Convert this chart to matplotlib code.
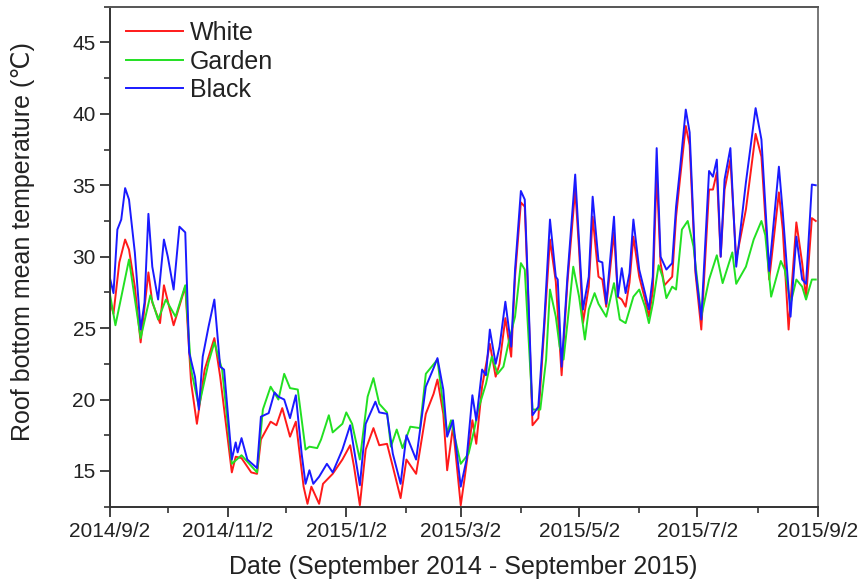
import pandas as pd
import matplotlib
matplotlib.use('Agg')
import matplotlib.pyplot as plt
from matplotlib.ticker import MultipleLocator, FixedLocator

plt.rcParams['font.family'] = ['Liberation Sans', 'DejaVu Sans']

start = pd.Timestamp('2014-09-02')

# days since 2014/9/2 and daily mean temperature
white_day = [0, 2, 5, 8, 10, 13, 16, 20, 22, 26, 28, 33, 39, 42, 45, 49, 54, 57, 63, 65,
             68, 73, 76, 78, 83, 86, 89, 93, 96, 100, 102, 104, 108, 110, 115, 120, 124, 126, 129, 132,
             136, 139, 143, 146, 150, 153, 158, 163, 167, 169, 172, 174, 177, 181, 183, 187, 189, 192, 196, 199,
             201, 204, 207, 209, 212, 214, 216, 218, 221, 224, 227, 230, 233, 236, 240, 242, 244, 247, 249, 252,
             254, 256, 260, 262, 264, 266, 268, 270, 273, 276, 278, 280, 282, 284, 286, 290, 292, 294, 297, 299,
             302, 305, 309, 311, 313, 315, 317, 320, 323, 328, 333, 336, 340, 345, 347, 350, 354, 357, 359, 362, 364]
white_val = [27.0, 26.0, 29.6, 31.2, 30.5, 27.9, 24.0, 28.9, 26.8, 25.35, 28.0, 25.2, 27.9, 21.2, 18.3, 22.1, 24.3, 21.6, 14.9, 16.0,
             15.9, 14.9, 14.8, 17.2, 18.45, 18.2, 19.4, 17.4, 18.45, 13.9, 12.7, 13.9, 12.7, 14.1, 14.8, 15.8, 16.8, 15.3, 12.6, 16.5,
             18.0, 16.8, 16.9, 15.3, 13.1, 15.8, 14.8, 19.0, 20.4, 21.4, 19.0, 15.05, 18.1, 12.6, 14.5, 18.55, 16.9, 20.9, 23.9, 21.6,
             22.5, 25.7, 23.0, 28.6, 33.8, 33.5, 26.3, 18.2, 18.7, 24.9, 31.2, 28.25, 21.7, 28.2, 34.7, 30.5, 25.35, 27.9, 32.8, 28.6,
             28.4, 26.5, 31.7, 27.2, 27.0, 26.5, 28.2, 31.4, 28.6, 27.0, 25.8, 27.6, 35.9, 29.55, 28.0, 28.6, 32.8, 35.4, 39.15, 37.8,
             28.85, 24.9, 34.7, 34.7, 35.9, 30.0, 34.7, 36.8, 29.8, 33.3, 38.6, 37.0, 28.4, 34.5, 31.9, 24.9, 32.4, 29.55, 27.1, 32.7, 32.5]

garden_day = [0, 3, 10, 16, 21, 25, 29, 34, 39, 42, 46, 51, 54, 58, 63, 68, 76, 79, 83, 87,
              90, 93, 97, 101, 103, 107, 109, 113, 115, 120, 122, 125, 129, 133, 136, 139, 143, 145, 148, 151,
              155, 160, 163, 169, 172, 174, 176, 181, 185, 188, 190, 194, 197, 200, 203, 206, 209, 212, 214, 218,
              222, 225, 227, 230, 232, 234, 236, 239, 242, 245, 247, 250, 252, 256, 260, 263, 266, 270, 273, 276,
              278, 280, 283, 285, 287, 290, 292, 295, 298, 301, 305, 309, 313, 316, 321, 323, 328, 332, 336, 338,
              341, 346, 348, 351, 354, 357, 359, 362, 364]
garden_val = [27.5, 25.2, 29.8, 24.3, 27.3, 25.6, 27.0, 25.8, 28.0, 22.1, 19.5, 22.6, 24.0, 22.1, 15.5, 16.1, 14.9, 19.3, 20.9, 20.0,
              21.8, 20.8, 20.7, 16.5, 16.7, 16.6, 17.2, 18.9, 17.7, 18.3, 19.1, 18.3, 15.8, 20.2, 21.5, 19.7, 19.1, 16.7, 17.9, 16.6,
              18.1, 18.0, 21.8, 22.8, 19.5, 17.65, 18.55, 15.5, 16.2, 17.9, 19.3, 21.1, 23.0, 21.8, 22.3, 24.2, 25.8, 29.55, 29.1, 19.3,
              19.3, 22.8, 27.7, 25.8, 23.7, 22.8, 25.35, 29.3, 27.2, 24.2, 26.3, 27.45, 26.7, 25.8, 28.15, 25.6, 25.35, 27.2, 27.7, 26.5,
              25.35, 26.7, 29.4, 28.6, 27.1, 27.9, 27.7, 31.9, 32.5, 30.7, 25.8, 28.4, 30.1, 28.15, 30.3, 28.1, 29.3, 31.2, 32.5, 31.5,
              27.2, 29.7, 29.1, 26.7, 28.4, 27.9, 27.0, 28.4, 28.4]

black_day = [0, 2, 4, 6, 8, 10, 13, 16, 18, 20, 22, 25, 28, 30, 33, 36, 39, 41, 44, 46,
             48, 51, 54, 57, 59, 63, 65, 66, 68, 71, 76, 78, 82, 85, 87, 90, 93, 96, 99, 101,
             103, 105, 108, 112, 115, 120, 124, 126, 129, 132, 137, 139, 143, 146, 150, 153, 158, 163, 167, 169,
             172, 174, 177, 181, 184, 187, 189, 192, 194, 196, 199, 201, 204, 207, 209, 212, 214, 216, 218, 221,
             224, 227, 230, 231, 233, 236, 240, 242, 244, 247, 249, 252, 254, 256, 260, 262, 264, 266, 268, 270,
             273, 276, 278, 280, 282, 284, 287, 290, 292, 294, 297, 299, 302, 305, 309, 311, 313, 315, 317, 320,
             323, 328, 333, 336, 340, 345, 347, 351, 354, 357, 359, 362, 364]
black_val = [28.6, 27.45, 31.9, 32.6, 34.8, 34.0, 30.3, 24.9, 26.8, 33.0, 29.3, 27.0, 31.2, 30.0, 27.7, 32.1, 31.7, 23.3, 21.6, 19.3,
             23.0, 25.1, 27.0, 22.3, 22.1, 15.8, 17.0, 16.3, 17.3, 15.8, 15.2, 18.8, 19.05, 20.5, 20.2, 20.0, 18.7, 20.3, 16.2, 14.1,
             15.05, 14.1, 14.6, 15.5, 14.9, 16.5, 18.2, 16.5, 14.0, 18.3, 19.85, 19.1, 19.0, 16.2, 14.1, 17.5, 15.8, 20.9, 22.2, 22.9,
             20.7, 17.4, 18.55, 13.9, 15.8, 20.3, 18.55, 22.1, 21.7, 24.9, 22.5, 23.7, 26.85, 23.7, 29.1, 34.6, 34.0, 26.7, 18.9, 19.5,
             25.35, 32.6, 28.6, 28.4, 22.3, 28.6, 35.75, 31.0, 26.3, 28.6, 34.2, 29.7, 29.6, 26.7, 32.8, 27.2, 29.2, 27.45, 28.85, 32.6,
             29.1, 27.45, 26.3, 28.6, 37.6, 30.0, 29.1, 29.55, 33.5, 36.1, 40.3, 38.7, 29.1, 25.6, 36.0, 35.6, 36.8, 30.0, 35.4, 37.6,
             29.3, 35.2, 40.4, 38.2, 29.0, 36.3, 33.1, 25.8, 31.4, 28.4, 28.1, 35.05, 35.0]

tick_labels = ['2014/9/2', '2014/11/2', '2015/1/2', '2015/3/2', '2015/5/2', '2015/7/2', '2015/9/2']
tick_dates = pd.to_datetime(tick_labels, format='%Y/%m/%d')
minor_dates = pd.to_datetime(['2014-10-02', '2014-12-02', '2015-02-02', '2015-04-02', '2015-06-02', '2015-08-02'])


def to_dates(days):
    return start + pd.to_timedelta(days, unit='D')


fig = plt.figure(figsize=(8.61, 5.88), dpi=100)
ax = fig.add_axes([0.1273, 0.1383, 0.8224, 0.8503])

ax.plot(to_dates(white_day), white_val, color='#ff1a1a', lw=1.4, label='White')
ax.plot(to_dates(garden_day), garden_val, color='#22e022', lw=1.4, label='Garden')
ax.plot(to_dates(black_day), black_val, color='#1a1aff', lw=1.4, label='Black')

ax.set_xlim(tick_dates[0], tick_dates[-1])
ax.set_ylim(12.5, 47.5)

ax.set_xticks(tick_dates)
ax.set_xticklabels(tick_labels)
ax.xaxis.set_minor_locator(FixedLocator(matplotlib.dates.date2num(minor_dates)))
ax.set_yticks([15, 20, 25, 30, 35, 40, 45])
ax.yaxis.set_minor_locator(MultipleLocator(2.5))

for s in ax.spines.values():
    s.set_linewidth(1.4)
    s.set_color('#333333')
ax.spines['right'].set_color('#777777')
ax.spines['top'].set_color('#555555')

ax.tick_params(axis='both', which='major', direction='out', length=7, width=1.3,
               labelsize=15, colors='#333333', labelcolor='#222222')
ax.tick_params(axis='y', which='major', pad=3)
ax.tick_params(axis='x', which='major', pad=4)
ax.tick_params(axis='both', which='minor', direction='out', length=4, width=1.2, colors='#333333')
ax.tick_params(top=False, right=False, which='both')

ax.set_xlabel('Date (September 2014 - September 2015)', fontsize=18, color='#222222', labelpad=10)
ax.set_ylabel('Roof bottom mean temperature (\u2103)', fontsize=18, color='#222222')
ax.yaxis.set_label_coords(-0.105, 0.53)

leg = ax.legend(loc='upper left', bbox_to_anchor=(0.1463, 0.964), bbox_transform=fig.transFigure,
                frameon=False, fontsize=18, handlelength=2.3, handletextpad=0.25,
                labelspacing=0.18, borderpad=0, borderaxespad=0)
for t in leg.get_texts():
    t.set_color('#222222')

fig.savefig('out.png', dpi=100)
